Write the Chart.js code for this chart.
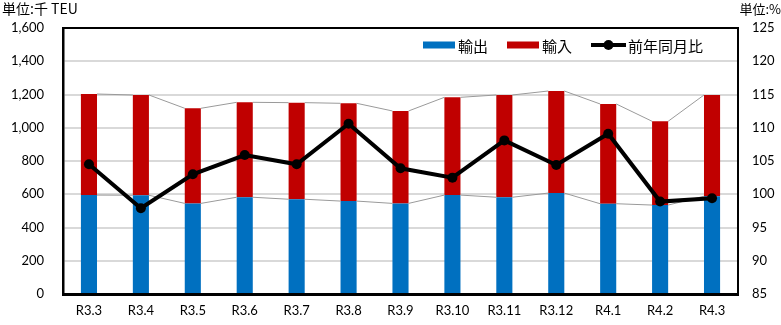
<!DOCTYPE html>
<html>
<head>
<meta charset="utf-8">
<script src="https://cdn.jsdelivr.net/npm/chart.js@4/dist/chart.umd.min.js"></script>
<style>
  html, body { margin: 0; padding: 0; background: #fff; }
  #wrap { width: 781px; height: 325px; position: relative; }
</style>
</head>
<body>
<div id="wrap"><canvas id="c" width="781" height="325"></canvas></div>
<script>
// Monthly container throughput (thousand TEU) and year-on-year ratio (%)
const months = ['R3.3', 'R3.4', 'R3.5', 'R3.6', 'R3.7', 'R3.8', 'R3.9', 'R3.10', 'R3.11', 'R3.12', 'R4.1', 'R4.2', 'R4.3'];
const exportsTEU = [595, 594, 545, 582, 570, 559, 545, 595, 582, 607, 543, 535, 588];
const importsTEU = [608, 603, 572, 571, 581, 588, 556, 588, 615, 614, 600, 504, 609];
const yoyPercent = [104.5, 97.9, 103.0, 105.9, 104.5, 110.6, 103.9, 102.5, 108.1, 104.4, 109.1, 98.9, 99.4];

const seriesNames = ['輸出', '輸入', '前年同月比'];
const leftAxisRange = [0, 1600, 200];   // min, max, step
const rightAxisRange = [85, 125, 5];
const leftUnit = '単位:千 TEU';
const rightUnit = '単位:%';

const BLUE = '#0070c0';
const RED = '#c00000';
const LATIN = 'Lato, "Noto Sans", sans-serif';
const CJK = '"Noto Sans CJK JP", "Noto Sans", sans-serif';

// Unit captions above both value axes
const unitLabels = {
  id: 'unitLabels',
  afterDraw(chart) {
    const ctx = chart.ctx;
    ctx.save();
    ctx.fillStyle = '#000';
    ctx.textBaseline = 'middle';
    ctx.font = '14px ' + CJK;
    ctx.textAlign = 'left';
    ctx.fillText(leftUnit, 2, 9);
    ctx.font = '13px ' + CJK;
    ctx.textAlign = 'right';
    ctx.fillText(rightUnit, chart.width, 9);
    ctx.restore();
  }
};

// Closing line along the top of the plot area
const frameTop = {
  id: 'frameTop',
  beforeDatasetsDraw(chart) {
    const { ctx, chartArea: a } = chart;
    ctx.save();
    ctx.strokeStyle = '#000';
    ctx.lineWidth = 2;
    ctx.beginPath();
    ctx.moveTo(a.left - 1, a.top);
    ctx.lineTo(a.right + 1, a.top);
    ctx.stroke();
    ctx.restore();
  }
};

// Thin connector lines between the tops of neighbouring stacked segments
const seriesLines = {
  id: 'seriesLines',
  beforeDatasetDraw(chart, args) {
    if (args.index !== 2) return;
    const ctx = chart.ctx;
    ctx.save();
    ctx.strokeStyle = '#9a9a9a';
    ctx.lineWidth = 1;
    [0, 1].forEach(di => {
      const bars = chart.getDatasetMeta(di).data;
      ctx.beginPath();
      for (let i = 0; i < bars.length - 1; i++) {
        const a = bars[i], b = bars[i + 1];
        ctx.moveTo(a.x + a.width / 2, a.y);
        ctx.lineTo(b.x - b.width / 2, b.y);
      }
      ctx.stroke();
    });
    ctx.restore();
  }
};

// Legend placed inside the plot area, top right
const innerLegend = {
  id: 'innerLegend',
  afterDatasetsDraw(chart) {
    const { ctx, chartArea: a } = chart;
    const ds = chart.data.datasets;
    ctx.save();
    ctx.font = '15px ' + CJK;
    ctx.textBaseline = 'middle';
    ctx.textAlign = 'left';
    const boxW = 32, boxH = 7, lineW = 35, itemGap = 19;
    const widths = ds.map((d, i) => (i < 2 ? boxW + 3 : lineW + 2) + ctx.measureText(d.label).width);
    const total = widths.reduce((s, w) => s + w, 0) + itemGap * (ds.length - 1);
    let x = a.right - 35 - total;
    const cy = a.top + 17;
    ds.forEach((d, i) => {
      if (i < 2) {
        ctx.fillStyle = d.backgroundColor;
        ctx.fillRect(x, cy - boxH / 2, boxW, boxH);
        ctx.fillStyle = '#000';
        ctx.fillText(d.label, x + boxW + 3, cy + 1);
      } else {
        ctx.strokeStyle = d.borderColor;
        ctx.lineWidth = 4;
        ctx.beginPath();
        ctx.moveTo(x, cy);
        ctx.lineTo(x + lineW, cy);
        ctx.stroke();
        ctx.fillStyle = d.borderColor;
        ctx.beginPath();
        ctx.arc(x + lineW / 2, cy, 5, 0, Math.PI * 2);
        ctx.fill();
        ctx.fillStyle = '#000';
        ctx.fillText(d.label, x + lineW + 2, cy + 1);
      }
      x += widths[i] + itemGap;
    });
    ctx.restore();
  }
};

new Chart(document.getElementById('c'), {
  type: 'bar',
  data: {
    labels: months,
    datasets: [
      { label: seriesNames[0], data: exportsTEU, backgroundColor: BLUE, stack: 's', yAxisID: 'y', order: 1,
        categoryPercentage: 1, barPercentage: 0.31 },
      { label: seriesNames[1], data: importsTEU, backgroundColor: RED, stack: 's', yAxisID: 'y', order: 1,
        categoryPercentage: 1, barPercentage: 0.31 },
      { type: 'line', label: seriesNames[2], data: yoyPercent, yAxisID: 'y1', order: 0,
        borderColor: '#000', backgroundColor: '#000', borderWidth: 4, tension: 0,
        pointRadius: 5, pointHoverRadius: 5, pointBackgroundColor: '#000', pointBorderWidth: 0 }
    ]
  },
  options: {
    responsive: false,
    animation: false,
    devicePixelRatio: 1,
    layout: { padding: { top: 28, left: 0, right: 0, bottom: 0 } },
    plugins: { legend: { display: false }, tooltip: { enabled: false } },
    scales: {
      x: {
        stacked: true,
        grid: { display: false, drawTicks: false },
        border: { display: true, color: '#000', width: 3 },
        ticks: { color: '#000', font: { family: LATIN, size: 13 }, padding: 9, maxRotation: 0, autoSkip: false },
        afterFit(s) { s.height = 31; }
      },
      y: {
        stacked: true,
        position: 'left',
        min: leftAxisRange[0], max: leftAxisRange[1],
        ticks: { stepSize: leftAxisRange[2], color: '#000', font: { family: LATIN, size: 13 }, padding: 19,
          callback: v => v.toLocaleString('en-US') },
        grid: { color: '#d9d9d9', lineWidth: 2, drawTicks: false },
        border: { display: true, color: '#000', width: 2.5 },
        afterFit(s) { s.width = 63; }
      },
      y1: {
        position: 'right',
        min: rightAxisRange[0], max: rightAxisRange[1],
        ticks: { stepSize: rightAxisRange[2], color: '#000', font: { family: LATIN, size: 13 }, padding: 14 },
        grid: { display: false, drawTicks: false },
        border: { display: true, color: '#000', width: 2 },
        afterFit(s) { s.width = 43; }
      }
    }
  },
  plugins: [frameTop, seriesLines, innerLegend, unitLabels]
});
</script>
</body>
</html>
